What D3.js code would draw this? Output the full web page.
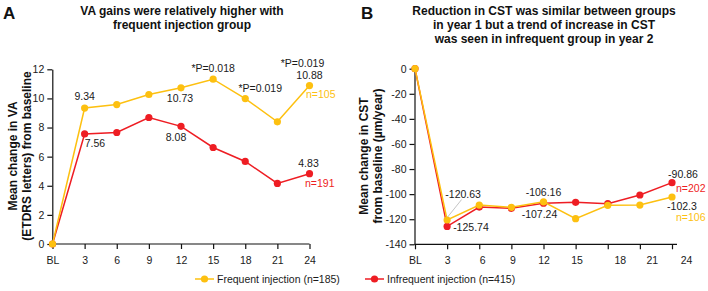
<!DOCTYPE html>
<html>
<head>
<meta charset="utf-8">
<script src="https://cdn.jsdelivr.net/npm/d3@7"></script>
<style>
  body { margin: 0; background: #fff; }
  svg { font-family: "Liberation Sans", Arial, sans-serif; }
</style>
</head>
<body>
<div id="chart"></div>
<script>
// months on the x axis (same for both panels)
const months = ["BL", "3", "6", "9", "12", "15", "18", "21", "24"];

// panel A: mean change in VA (ETDRS letters)
const vaFrequent   = [0, 9.34, 9.58, 10.27, 10.73, 11.32, 9.99, 8.39, 10.88];
const vaInfrequent = [0, 7.56, 7.66, 8.69, 8.08, 6.63, 5.67, 4.16, 4.83];
const vaTicks = [0, 2, 4, 6, 8, 10, 12];
const vaPValues = [["15", "*P=0.018"], ["18", "*P=0.019"], ["24", "*P=0.019"]];
const vaN = { frequent: "n=105", infrequent: "n=191" };

// panel B: mean change in CST (µm/year)
const cstFrequent   = [0, -120.63, -108.7, -110.5, -106.16, -119.6, -108.9, -108.7, -102.3];
const cstInfrequent = [0, -125.74, -110.3, -111.3, -107.24, -106.5, -107.6, -100.7, -90.86];
const cstTicks = [0, -20, -40, -60, -80, -100, -120, -140];
const cstN = { frequent: "n=106", infrequent: "n=202" };

const legendLabels = ["Frequent injection (n=185)", "Infrequent injection (n=415)"];

const yellow = "#FDC010", red = "#EE1D23", ink = "#1a1a1a";
const fs = 10.5;

const svg = d3.select("#chart").append("svg")
    .attr("width", 708).attr("height", 291);

function drawPanel(opt) {
    let x = d3.scalePoint().domain(months).range(opt.xRange);
    let y = d3.scaleLinear().domain(opt.yDomain).range(opt.yRange);

    // y axis
    let ya = svg.append("g")
        .attr("transform", "translate(" + opt.yAxisX + ",0)")
        .call(d3.axisLeft(y).tickValues(opt.yTicks).tickSize(5).tickSizeOuter(0).tickFormat(d => String(d)));
    ya.selectAll("text").attr("font-size", fs).attr("fill", ink).attr("font-family", "Liberation Sans, Arial");

    // x axis
    let xa = svg.append("g")
        .attr("transform", "translate(0," + opt.yRange[0] + ")")
        .call(d3.axisBottom(x).tickSize(5).tickSizeOuter(0));
    xa.select(".domain").attr("d", "M" + opt.yAxisX + ",0H" + opt.xAxisEnd);
    xa.selectAll(".tick text")
        .attr("font-size", fs).attr("fill", ink).attr("dy", "1.15em")
        .attr("font-family", "Liberation Sans, Arial")
        .attr("dx", (d, i) => opt.labelShift[i]);
    svg.selectAll("path.domain, .tick line").attr("stroke", "#111").attr("stroke-width", 1.2);

    let line = d3.line().x((d, i) => x(months[i])).y(d => y(d));

    [[opt.infrequent, red], [opt.frequent, yellow]].forEach(function(s) {
        svg.append("path")
            .datum(s[0])
            .attr("d", line)
            .attr("fill", "none")
            .attr("stroke", s[1])
            .attr("stroke-width", 1.5);
        svg.selectAll(null)
            .data(s[0])
            .enter()
            .append("circle")
            .attr("cx", (d, i) => x(months[i]))
            .attr("cy", d => y(d))
            .attr("r", 3.6)
            .attr("fill", s[1]);
    });

    // value labels placed relative to their points
    opt.notes.forEach(function(n) {
        let v = n.series[months.indexOf(n.month)];
        svg.append("text")
            .attr("x", x(n.month) + n.dx)
            .attr("y", y(v) + n.dy)
            .attr("text-anchor", n.anchor || "middle")
            .attr("font-size", fs)
            .attr("fill", n.color || ink)
            .text(n.text !== undefined ? n.text : String(v));
    });
    return {x: x, y: y};
}

// ---- panel A ----
let a = drawPanel({
    xRange: [52.5, 309.5], yDomain: [0, 12], yRange: [244, 69.3],
    yAxisX: 52.3, xAxisEnd: 309.5, yTicks: vaTicks,
    labelShift: [0, 0, 0, 0, 0, 0, 0, 0, 0],
    frequent: vaFrequent, infrequent: vaInfrequent,
    notes: [
        {series: vaFrequent, month: "3", dx: 0, dy: -8},
        {series: vaInfrequent, month: "3", dx: 0, dy: 13.5, anchor: "start"},
        {series: vaFrequent, month: "12", dx: -1, dy: 14.5},
        {series: vaInfrequent, month: "12", dx: -5, dy: 15},
        {series: vaFrequent, month: "15", dx: 0, dy: -7.6, text: vaPValues[0][1]},
        {series: vaFrequent, month: "18", dx: 15, dy: -7, text: vaPValues[1][1]},
        {series: vaFrequent, month: "24", dx: -7, dy: -18.6, text: vaPValues[2][1]},
        {series: vaFrequent, month: "24", dx: 0, dy: -6.6},
        {series: vaFrequent, month: "24", dx: -3.5, dy: 12, anchor: "start", text: vaN.frequent, color: yellow},
        {series: vaInfrequent, month: "24", dx: -1, dy: -6.4},
        {series: vaInfrequent, month: "24", dx: -4.5, dy: 13, anchor: "start", text: vaN.infrequent, color: red}
    ]
});

// ---- panel B ----
let b = drawPanel({
    xRange: [415, 672], yDomain: [-140, 0], yRange: [244.3, 68.7],
    yAxisX: 414.5, xAxisEnd: 677, yTicks: cstTicks,
    labelShift: [0, 0, 3, 1, 0, 1, 12, 12, 14],
    frequent: cstFrequent, infrequent: cstInfrequent,
    notes: [
        {series: cstFrequent, month: "3", dx: 16, dy: -22},
        {series: cstInfrequent, month: "3", dx: 6, dy: 5, anchor: "start"},
        {series: cstFrequent, month: "12", dx: 0, dy: -6},
        {series: cstInfrequent, month: "12", dx: -4, dy: 15},
        {series: cstInfrequent, month: "24", dx: 11, dy: -4.7},
        {series: cstInfrequent, month: "24", dx: 4, dy: 9.6, anchor: "start", text: cstN.infrequent, color: red},
        {series: cstFrequent, month: "24", dx: 10, dy: 12.7},
        {series: cstFrequent, month: "24", dx: 4, dy: 24, anchor: "start", text: cstN.frequent, color: yellow}
    ]
});
// leader line for -120.63
svg.append("line")
    .attr("x1", b.x("3") + 14.5).attr("y1", b.y(cstFrequent[1]) - 20.5)
    .attr("x2", b.x("3") + 0.5).attr("y2", b.y(cstFrequent[1]) - 3)
    .attr("stroke", "#aaa").attr("stroke-width", 0.7);

// ---- titles, panel letters, axis titles ----
function bold(x, y, size, txt, anchor, rot) {
    let t = svg.append("text")
        .attr("x", x).attr("y", y)
        .attr("font-size", size).attr("font-weight", "bold")
        .attr("text-anchor", anchor || "middle")
        .attr("fill", "#111")
        .text(txt);
    if (rot) t.attr("transform", "rotate(-90," + x + "," + y + ")");
    return t;
}
bold(3, 19, 17, "A", "start");
bold(361, 19, 17, "B", "start");

bold(182, 15, 12, "VA gains were relatively higher with");
bold(182, 29, 12, "frequent injection group");

bold(544, 15, 12, "Reduction in CST was similar between groups");
bold(544, 29, 12, "in year 1 but a trend of increase in CST");
bold(544, 43, 12, "was seen in infrequent group in year 2");

bold(17, 156, 12, "Mean change in VA", "middle", true);
bold(31, 156, 12, "(ETDRS letters) from baseline", "middle", true);
bold(368, 156, 12, "Mean change in CST", "middle", true);
bold(382, 156, 12, "from baseline (\u00b5m/year)", "middle", true);

// ---- legend ----
let legend = svg.append("g");
[[195, 214, yellow, legendLabels[0]], [365, 384, red, legendLabels[1]]].forEach(function(l) {
    legend.append("line")
        .attr("x1", l[0]).attr("x2", l[1]).attr("y1", 279).attr("y2", 279)
        .attr("stroke", l[2]).attr("stroke-width", 1.5);
    legend.append("circle")
        .attr("cx", (l[0] + l[1]) / 2).attr("cy", 279).attr("r", 3.6).attr("fill", l[2]);
    legend.append("text")
        .attr("x", l[1] + 3).attr("y", 283)
        .attr("font-size", fs).attr("fill", ink)
        .text(l[3]);
});
</script>
</body>
</html>
